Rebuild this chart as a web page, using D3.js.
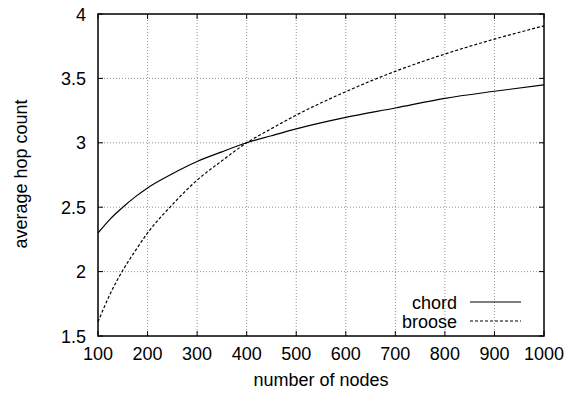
<!DOCTYPE html>
<html>
<head>
<meta charset="utf-8">
<script src="https://cdn.jsdelivr.net/npm/d3@7"></script>
<style>
  body { margin: 0; background: #fff; }
  text { font-family: "Liberation Sans", Arial, sans-serif; fill: #000; }
</style>
</head>
<body>
<svg id="chart" width="575" height="394"></svg>
<script>
// values
var nodes = [100, 125, 150, 175, 200, 250, 300, 350, 400, 450, 500, 600, 700, 800, 900, 1000];
var chord = [2.30, 2.41, 2.50, 2.58, 2.65, 2.76, 2.855, 2.93, 3.0, 3.055, 3.108, 3.197, 3.27, 3.345, 3.40, 3.45];
var broose = [1.61, 1.83, 2.01, 2.16, 2.30, 2.52, 2.71, 2.86, 3.0, 3.11, 3.215, 3.397, 3.555, 3.689, 3.805, 3.908];
var xTicks = [100, 200, 300, 400, 500, 600, 700, 800, 900, 1000];
var yTicks = [1.5, 2, 2.5, 3, 3.5, 4];

var chart = {};

chart.build = function(sel){
    var svg = d3.select(sel);
    var left = 98, right = 544, top = 14, bottom = 336;
    var fs = 18;

    var x = d3.scaleLinear().domain([100, 1000]).range([left, right]);
    var y = d3.scaleLinear().domain([1.5, 4]).range([bottom, top]);

    // grid
    var grid = svg.append("g").attr("stroke", "#777").attr("stroke-width", 0.8)
        .attr("stroke-dasharray", "1,2");
    grid.selectAll(".gx").data(xTicks.slice(1, -1)).enter().append("line")
        .attr("x1", x).attr("x2", x).attr("y1", top).attr("y2", bottom);
    grid.selectAll(".gy").data(yTicks.slice(1, -1)).enter().append("line")
        .attr("y1", y).attr("y2", y).attr("x1", left).attr("x2", right);

    // ticks on all four sides, pointing in
    var tk = svg.append("g").attr("stroke", "#000").attr("stroke-width", 1);
    xTicks.forEach(function(t){
        tk.append("line").attr("x1", x(t)).attr("x2", x(t)).attr("y1", bottom).attr("y2", bottom - 5);
        tk.append("line").attr("x1", x(t)).attr("x2", x(t)).attr("y1", top).attr("y2", top + 5);
    });
    yTicks.forEach(function(t){
        tk.append("line").attr("y1", y(t)).attr("y2", y(t)).attr("x1", left).attr("x2", left + 5);
        tk.append("line").attr("y1", y(t)).attr("y2", y(t)).attr("x1", right).attr("x2", right - 5);
    });

    // tick labels
    svg.append("g").selectAll("text").data(xTicks).enter().append("text")
        .attr("x", x).attr("y", 360).attr("text-anchor", "middle")
        .attr("font-size", fs).text(function(d){ return d; });
    svg.append("g").selectAll("text").data(yTicks).enter().append("text")
        .attr("x", 86).attr("y", function(d){ return y(d) + 6.5; }).attr("text-anchor", "end")
        .attr("font-size", fs).text(function(d){ return d; });

    // axis titles
    svg.append("text").attr("x", (left + right) / 2).attr("y", 386).attr("text-anchor", "middle")
        .attr("font-size", fs).text("number of nodes");
    svg.append("text").attr("transform", "translate(27,174) rotate(-90)")
        .attr("text-anchor", "middle").attr("font-size", fs).text("average hop count");

    // curves
    var line = d3.line().curve(d3.curveMonotoneX);
    var pts = function(vals){ return nodes.map(function(n, i){ return [x(n), y(vals[i])]; }); };
    svg.append("path").attr("d", line(pts(chord))).attr("fill", "none")
        .attr("stroke", "#000").attr("stroke-width", 1.2);
    svg.append("path").attr("d", line(pts(broose))).attr("fill", "none")
        .attr("stroke", "#000").attr("stroke-width", 1.2).attr("stroke-dasharray", "3,2");

    // border
    svg.append("rect").attr("x", left).attr("y", top).attr("width", right - left)
        .attr("height", bottom - top).attr("fill", "none").attr("stroke", "#000").attr("stroke-width", 1.5);

    // legend
    var lg = svg.append("g");
    lg.append("text").attr("x", 457).attr("y", 309).attr("text-anchor", "end")
        .attr("font-size", fs).text("chord");
    lg.append("text").attr("x", 457).attr("y", 328).attr("text-anchor", "end")
        .attr("font-size", fs).text("broose");
    lg.append("line").attr("x1", 470).attr("x2", 521).attr("y1", 302).attr("y2", 302)
        .attr("stroke", "#000").attr("stroke-width", 1.2);
    lg.append("line").attr("x1", 470).attr("x2", 521).attr("y1", 321).attr("y2", 321)
        .attr("stroke", "#000").attr("stroke-width", 1.2).attr("stroke-dasharray", "3,2");
};

chart.build("#chart");
</script>
</body>
</html>
